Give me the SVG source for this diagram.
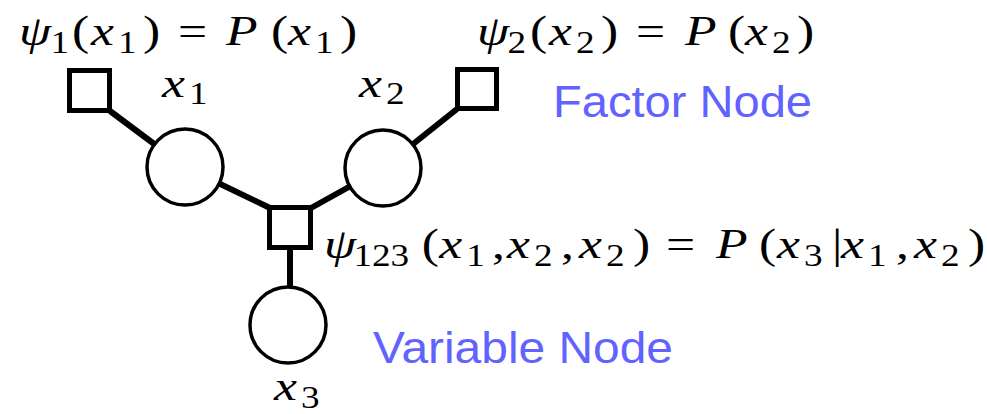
<svg xmlns="http://www.w3.org/2000/svg" width="987" height="414" viewBox="0 0 987 414">
<style>
.edge{stroke:#000;stroke-width:6;stroke-linecap:butt}
.fac{fill:#fff;stroke:#000;stroke-width:5}
.var{fill:#fff;stroke:#000;stroke-width:3.5}
.m{font-family:"Liberation Serif","Times New Roman",serif;font-size:43px;fill:#000}
.i{font-style:italic}
.s{font-size:31px}
.lbl{font-family:"Liberation Sans",Arial,sans-serif;font-size:45px;fill:#6262ff}
</style>
<rect width="987" height="414" fill="#fff"/>
<g id="connectors">
<line class="edge" x1="110" y1="111" x2="185" y2="167"/>
<line class="edge" x1="185" y1="167" x2="270" y2="208"/>
<line class="edge" x1="383" y1="168" x2="311" y2="208"/>
<line class="edge" x1="457" y1="109" x2="383" y2="168"/>
<line class="edge" x1="290" y1="227" x2="290" y2="325"/>
</g>
<g id="factor1">
<rect class="fac" x="69.5" y="70.5" width="40" height="40"/>
<text class="m" transform="scale(1.2 1)"><tspan class="i" x="15.83" y="45">ψ</tspan><tspan class="s" x="42" y="53">1</tspan><tspan x="60" y="45">(</tspan><tspan class="i" x="75.83" y="45">x</tspan><tspan class="s" x="98.33" y="53">1</tspan><tspan x="119.17" y="45">)</tspan><tspan x="148.33" y="45">=</tspan><tspan class="i" x="188.33" y="45">P</tspan><tspan x="225.83" y="45">(</tspan><tspan class="i" x="240" y="45">x</tspan><tspan class="s" x="262.5" y="53">1</tspan><tspan x="283.33" y="45">)</tspan></text>
</g>
<g id="factor2">
<rect class="fac" x="457.5" y="69.5" width="39" height="39"/>
<text class="m" transform="scale(1.2 1)"><tspan class="i" x="397.5" y="45">ψ</tspan><tspan class="s" x="423" y="53">2</tspan><tspan x="441.67" y="45">(</tspan><tspan class="i" x="457.5" y="45">x</tspan><tspan class="s" x="480" y="53">2</tspan><tspan x="500.83" y="45">)</tspan><tspan x="530" y="45">=</tspan><tspan class="i" x="570.83" y="45">P</tspan><tspan x="606.67" y="45">(</tspan><tspan class="i" x="620.83" y="45">x</tspan><tspan class="s" x="643.33" y="53">2</tspan><tspan x="664.17" y="45">)</tspan></text>
</g>
<g id="factor123">
<rect class="fac" x="269.5" y="207.5" width="41" height="40"/>
<text class="m" transform="scale(1.2 1)"><tspan class="i" x="270" y="258">ψ</tspan><tspan class="s" x="294.5" y="266">123</tspan><tspan x="351.5" y="258">(</tspan><tspan class="i" x="366" y="258">x</tspan><tspan class="s" x="388.5" y="266">1</tspan><tspan x="410" y="258">,</tspan><tspan class="i" x="422.5" y="258">x</tspan><tspan class="s" x="445" y="266">2</tspan><tspan x="467.5" y="258">,</tspan><tspan class="i" x="482.5" y="258">x</tspan><tspan class="s" x="505" y="266">2</tspan><tspan x="527.5" y="258">)</tspan><tspan x="555" y="258">=</tspan><tspan class="i" x="596.67" y="258">P</tspan><tspan x="632.5" y="258">(</tspan><tspan class="i" x="647.5" y="258">x</tspan><tspan class="s" x="670" y="266">3</tspan><tspan x="693.33" y="258">|</tspan><tspan class="i" x="700.83" y="258">x</tspan><tspan class="s" x="723.33" y="266">1</tspan><tspan x="746.67" y="258">,</tspan><tspan class="i" x="761.67" y="258">x</tspan><tspan class="s" x="784.17" y="266">2</tspan><tspan x="806.67" y="258">)</tspan></text>
</g>
<g id="var-x1">
<circle class="var" cx="185" cy="167" r="38"/>
<text class="m" transform="scale(1.2 1)"><tspan class="i" x="135" y="97">x</tspan><tspan class="s" x="157.5" y="104">1</tspan></text>
</g>
<g id="var-x2">
<circle class="var" cx="383" cy="168" r="38"/>
<text class="m" transform="scale(1.2 1)"><tspan class="i" x="299.17" y="97">x</tspan><tspan class="s" x="321.67" y="104">2</tspan></text>
</g>
<g id="var-x3">
<circle class="var" cx="288" cy="325" r="38"/>
<text class="m" transform="scale(1.2 1)"><tspan class="i" x="228.33" y="400">x</tspan><tspan class="s" x="250.83" y="408">3</tspan></text>
</g>
<g id="legend-factor">
<text class="lbl" x="553" y="117" textLength="259" lengthAdjust="spacingAndGlyphs">Factor Node</text>
</g>
<g id="legend-variable">
<text class="lbl" x="373" y="363" textLength="300" lengthAdjust="spacingAndGlyphs">Variable Node</text>
</g>
</svg>
